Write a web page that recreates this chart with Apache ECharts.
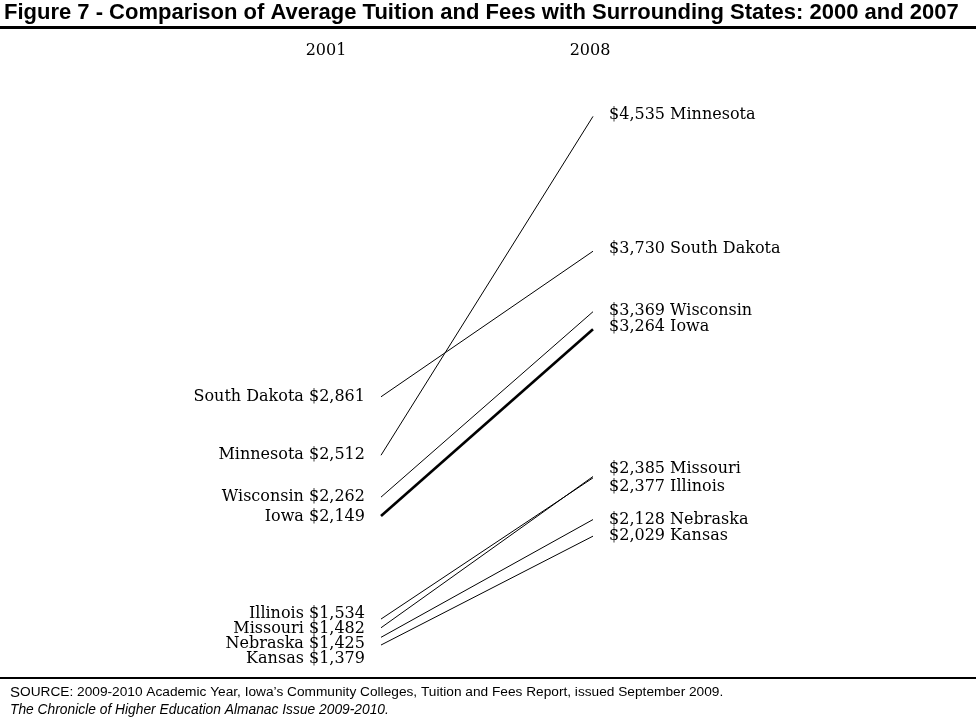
<!DOCTYPE html>
<html lang="en">
<head>
<meta charset="UTF-8">
<title>Figure 7</title>
<script src="https://cdn.jsdelivr.net/npm/echarts@6/dist/echarts.min.js"></script>
<style>
  body { margin: 0; background: #fff; }
  #Main { width: 976px; height: 720px; }
</style>
</head>
<body>
<div id="Main"></div>
<script type="text/javascript">
// data
var states = ['Minnesota', 'South Dakota', 'Wisconsin', 'Iowa', 'Missouri', 'Illinois', 'Nebraska', 'Kansas'];
var fees2001 = [2512, 2861, 2262, 2149, 1482, 1534, 1425, 1379];
var fees2008 = [4535, 3730, 3369, 3264, 2385, 2377, 2128, 2029];
var years = ['2001', '2008'];

// small nudges so the crowded labels do not sit on top of each other
var leftNudge = [0, 0, 0, 1, 1, -5, 7, 14];
var rightNudge = [-2, -2, -1, -2, -8, 9, 0, 0];

var serif = '"DejaVu Serif", "Liberation Serif", serif';
function money(v) { return '$' + v.toLocaleString('en-US'); }

var myChart = echarts.init(document.getElementById('Main'));

var series = [];
for (var i = 0; i < states.length; i++) {
    series.push({
        name: states[i],
        type: 'line',
        symbol: 'none',
        silent: true,
        lineStyle: { color: '#000', width: states[i] === 'Iowa' ? 2.6 : 1 },
        data: [
            { value: [0, fees2001[i]], symbol: 'circle', symbolSize: 0.1,
              label: { show: true, position: 'left', distance: 16, offset: [0, leftNudge[i]],
                       formatter: states[i] + ' ' + money(fees2001[i]) } },
            { value: [1, fees2008[i]], symbol: 'circle', symbolSize: 0.1,
              label: { show: true, position: 'right', distance: 16, offset: [0, rightNudge[i]],
                       formatter: money(fees2008[i]) + ' ' + states[i] } }
        ],
        label: { fontFamily: serif, fontSize: 16, color: '#000' },
        animation: false
    });
}

myChart.setOption({
    animation: false,
    grid: { left: 381, width: 212, top: 38.5, height: 670 },
    xAxis: { type: 'value', min: 0, max: 1, show: false },
    yAxis: { type: 'value', min: 1000, max: 5000, show: false },
    graphic: [
        { type: 'text', left: 4, top: 2, style: { text: 'Figure 7 - Comparison of Average Tuition and Fees with Surrounding States: 2000 and 2007',
            font: 'bold 22px "Liberation Sans", Arial, sans-serif', fill: '#000' } },
        { type: 'rect', shape: { x: 0, y: 26, width: 976, height: 3 }, style: { fill: '#000' } },
        { type: 'text', x: 326, y: 51, style: { text: years[0], font: '16px ' + serif, fill: '#000', align: 'center', verticalAlign: 'middle' } },
        { type: 'text', x: 590, y: 51, style: { text: years[1], font: '16px ' + serif, fill: '#000', align: 'center', verticalAlign: 'middle' } },
        { type: 'rect', shape: { x: 0, y: 677, width: 976, height: 2 }, style: { fill: '#000' } },
        { type: 'text', left: 10, top: 685, style: { rich: { s: { fontSize: 13.7, fontFamily: 'Liberation Sans, Arial' }, S: { fontSize: 15, fontFamily: 'Liberation Sans, Arial' } },
            text: '{S|S}{s|OURCE: 2009-2010 Academic Year, Iowa\u2019s Community Colleges, Tuition and Fees Report, issued September 2009.}', fill: '#000' } },
        { type: 'text', left: 10, top: 703, style: { text: 'The Chronicle of Higher Education Almanac Issue 2009-2010.',
            font: 'italic 13.8px "Liberation Sans", Arial, sans-serif', fill: '#000' } }
    ],
    series: series
});
</script>
</body>
</html>
